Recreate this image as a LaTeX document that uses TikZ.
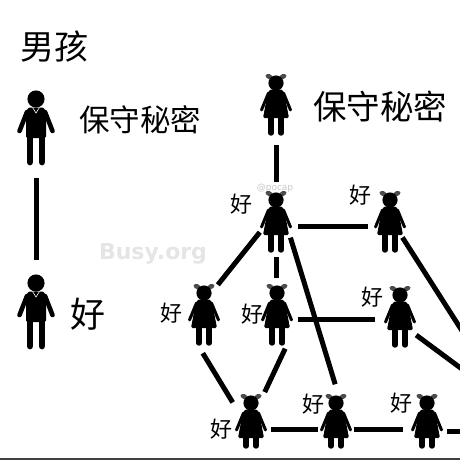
\documentclass[tikz,border=0pt]{standalone}
\usepackage{fontspec}
\setmainfont{Noto Sans CJK SC}
\setsansfont{DejaVu Sans}
\usetikzlibrary{calc}
\tikzset{
    link/.style={line width=5pt, draw=black},
    figbox/.style={rectangle, inner sep=0pt, minimum width=32pt, minimum height=68pt},
    boybox/.style={rectangle, inner sep=0pt, minimum width=32pt, minimum height=76pt},
    hao/.style={font=\fontsize{22}{22}\selectfont, inner sep=0pt},
    bigtext/.style={font=\fontsize{#1}{#1}\selectfont, inner sep=0pt},
    girl/.pic={
        \node[figbox] (-box) at (0,0) {};
        % bows
        \fill[black!70, rotate around={-20:(-7,-32.5)}] (-7,-32.5) ellipse (3.6pt and 2.4pt);
        \fill[black!70, rotate around={20:(7,-32.5)}] (7,-32.5) ellipse (3.6pt and 2.4pt);
        \fill (0,-26) circle (7.6pt);
        % dress
        \fill[rounded corners=1.5pt] (-6.5,-19.5) -- (6.5,-19.5) -- (9,-12) -- (13,9) -- (-13,9) -- (-9,-12) -- cycle;
        \draw[line width=3pt, line cap=round] (-7.5,-16) -- (-14.5,1);
        \draw[line width=3pt, line cap=round] (7.5,-16) -- (14.5,1);
        % legs
        \draw[line width=5.4pt, line cap=round] (-5,8) -- (-5,#1);
        \draw[line width=5.4pt, line cap=round] (5,8) -- (5,#1);
    },
    boy/.pic={
        \node[boybox] (-box) at (0,0) {};
        \fill (0,-29) circle (8.6pt);
        % body
        \fill[rounded corners=1.5pt] (-8,-20.5) -- (8,-20.5) -- (10,-14) -- (10,10) -- (-10,10) -- (-10,-14) -- cycle;
        \draw[line width=4.6pt, line cap=round] (-9,-16) -- (-16.5,3);
        \draw[line width=4.6pt, line cap=round] (9,-16) -- (16.5,3);
        \draw[white, line width=.6pt] (-3.5,-20.5) -- (0,-15) -- (3.5,-20.5);
        % legs
        \draw[line width=6.8pt, line cap=round] (-6,8) -- (-6,34);
        \draw[line width=6.8pt, line cap=round] (6,8) -- (6,34);
    }
}
\begin{document}
\begin{tikzpicture}[x=1pt, y=-1pt]
    \useasboundingbox (0,0) rectangle (460,460);
    \begin{scope}
    \clip (0,0) rectangle (460,460);

    % ==== WATERMARKS ====
    \node[inner sep=0pt, text=black!10, font=\sffamily\bfseries\fontsize{22}{22}\selectfont] (busymark) at (153,254) {Busy.org};
    \node[inner sep=0pt, text=black!22, font=\sffamily\fontsize{9}{9}\selectfont] (pocapmark) at (275,188) {@pocap};

    % ==== BOYS ====
    \pic (boyone) at (36,128) {boy};
    \pic (boytwo) at (36,312) {boy};

    % ==== GIRLS ====
    \pic (topgirl) at (276,109) {girl=24};
    \pic (agirl) at (276,226) {girl=24};
    \pic (bgirl) at (390,226) {girl=24};
    \pic (cgirl) at (204,319) {girl=24};
    \pic (dgirl) at (277,319) {girl=24};
    \pic (egirl) at (400,321) {girl=24};
    \pic (fgirl) at (251,429) {girl=17};
    \pic (ggirl) at (336,429) {girl=17};
    \pic (hgirl) at (427,429) {girl=17};

    % free ends past the right edge
    \coordinate (bedge) at (466,337);
    \coordinate (eedge) at (466,372);
    \coordinate (hedge) at (466,431);

    % ==== LINKS ====
    \draw[link, shorten <=12pt, shorten >=14pt] (boyone-box.south) -- (boytwo-box.north);
    \draw[link, shorten <=2pt, shorten >=10pt] (topgirl-box.south) -- (agirl-box.north);
    \draw[link, shorten <=6pt, shorten >=6pt] (agirl-box.east) -- (bgirl-box.west);
    \draw[link] (agirl-box.201) -- (cgirl-box.68);
    \draw[link, shorten <=-3pt, shorten >=7pt] (agirl-box.south) -- (dgirl-box.north -| agirl-box.south);
    \draw[link, shorten <=-6pt, shorten >=11pt] (agirl-box.-47) -- (ggirl-box.86);
    \draw[link, shorten <=-7pt] (bgirl-box.-47) -- (bedge);
    \draw[link, shorten <=5pt, shorten >=9pt] (dgirl-box.east) -- (dgirl-box.east -| egirl-box.west);
    \draw[link] (egirl-box.-41) -- (eedge);
    \draw[link, shorten >=4pt] (cgirl-box.-92) -- (fgirl-box.125);
    \draw[link, shorten <=-5pt, shorten >=3pt] (dgirl-box.-80) -- (fgirl-box.70);
    \draw[link, shorten <=4pt, shorten >=2pt] (fgirl-box.east) -- (ggirl-box.west);
    \draw[link, shorten <=2pt, shorten >=8pt] (ggirl-box.east) -- (hgirl-box.west);
    \draw[link, shorten <=4pt] (hgirl-box.east |- hedge) -- (hedge);

    % bottom edge of the picture
    \fill[black!75] (0,458) rectangle (460,460);

    % ==== LABELS ====
    \node[bigtext=34] (boytitle) at (54,47) {男孩};
    \node[bigtext=30.5] (boysecret) at (140,120) {保守秘密};
    \node[bigtext=33.5] (girlsecret) at (380,107) {保守秘密};
    \node[bigtext=35] (boyhao) at (88,314) {好};
    \node[hao] (ahao) at (241,204) {好};
    \node[hao] (bhao) at (360,195) {好};
    \node[hao] (chao) at (171,313) {好};
    \node[hao] (dhao) at (252,314) {好};
    \node[hao] (ehao) at (372,297) {好};
    \node[hao] (fhao) at (221,429) {好};
    \node[hao] (ghao) at (313,404) {好};
    \node[hao] (hhao) at (401,403) {好};
    \end{scope}
\end{tikzpicture}
\end{document}
